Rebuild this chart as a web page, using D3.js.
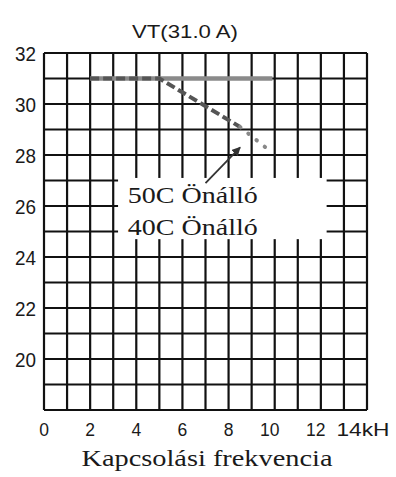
<!DOCTYPE html>
<html><head><meta charset="utf-8">
<script src="https://cdn.jsdelivr.net/npm/d3@7"></script>
<style>html,body{margin:0;padding:0;background:#fff;}</style>
</head><body>
<svg id="c" width="396" height="477"></svg>
<script>
const title = "VT(31.0 A)";
const xLabel = "Kapcsolási frekvencia";
const xTickValues = [0, 2, 4, 6, 8, 10, 12, 14];
const xTickLabels = ["0", "2", "4", "6", "8", "10", "12", "14kH"];
const yTickValues = [20, 22, 24, 26, 28, 30, 32];
const legendLabels = ["50C Önálló", "40C Önálló"];
// series (kHz, A)
const solidX = [2, 9.9];
const solidY = [31, 31];
const dashedX = [2, 5, 8.5];
const dashedY = [31, 31, 29.1];
const dottedX = [8.5, 9.6];
const dottedY = [29.1, 28.3];

const svg = d3.select("#c");
const x = d3.scaleLinear().domain([0, 14]).range([44, 367]);
const y = d3.scaleLinear().domain([18, 32]).range([410, 53]);

const grid = svg.append("g").attr("stroke", "#111").attr("stroke-width", 2.2);
grid.selectAll("line.v").data(d3.range(0, 15)).join("line")
  .attr("x1", d => x(d)).attr("x2", d => x(d)).attr("y1", y(32)).attr("y2", y(18));
grid.selectAll("line.h").data(d3.range(18, 33)).join("line")
  .attr("y1", d => y(d)).attr("y2", d => y(d)).attr("x1", x(0)).attr("x2", x(14));

// legend white box
svg.append("rect").attr("x", x(3.21)).attr("y", y(27.1))
  .attr("width", x(12.25) - x(3.21)).attr("height", y(24.7) - y(27.1)).attr("fill", "#fff");

const line = d3.line();
const pts = (xs, ys) => xs.map((v, i) => [x(v), y(ys[i])]);
svg.append("path").attr("d", line(pts(solidX, solidY))).attr("fill", "none")
  .attr("stroke", "#8a8a8a").attr("stroke-width", 4.5);
svg.append("path").attr("d", line(pts(dashedX, dashedY))).attr("fill", "none")
  .attr("stroke", "#555").attr("stroke-width", 4).attr("stroke-dasharray", "9,4");
svg.append("path").attr("d", line(pts(dottedX, dottedY))).attr("fill", "none")
  .attr("stroke", "#888").attr("stroke-width", 4).attr("stroke-linecap", "round").attr("stroke-dasharray", "0.5,10");

// arrow
svg.append("defs").append("marker").attr("id", "ah").attr("viewBox", "0 0 10 10")
  .attr("refX", 9).attr("refY", 5).attr("markerWidth", 5).attr("markerHeight", 5).attr("orient", "auto")
  .append("path").attr("d", "M0,0 L10,5 L0,10 z").attr("fill", "#333");
svg.append("line").attr("x1", x(7.0)).attr("y1", y(26.9)).attr("x2", x(8.5)).attr("y2", y(28.3))
  .attr("stroke", "#333").attr("stroke-width", 1.8).attr("marker-end", "url(#ah)");

// legend text
const lg = svg.append("g").attr("font-family", "'Liberation Serif','Times New Roman',serif").attr("font-size", 24).attr("fill", "#1a1a1a");
lg.selectAll("text").data(legendLabels).join("text")
  .attr("x", x(3.63)).attr("y", (d, i) => 203 + i * 32)
  .attr("textLength", 130).attr("lengthAdjust", "spacingAndGlyphs")
  .text(d => d);

// title
svg.append("text").attr("x", 185).attr("y", 38).attr("text-anchor", "middle")
  .attr("font-family", "'Liberation Sans',Arial,sans-serif").attr("font-size", 19).attr("fill", "#1a1a1a")
  .attr("textLength", 106).attr("lengthAdjust", "spacingAndGlyphs").text(title);

// y ticks
svg.append("g").selectAll("text").data(yTickValues).join("text")
  .attr("x", 36).attr("y", d => y(d) + 8).attr("text-anchor", "end")
  .attr("font-family", "'Liberation Sans',Arial,sans-serif").attr("font-size", 20).attr("fill", "#1a1a1a")
  .attr("textLength", 21).attr("lengthAdjust", "spacingAndGlyphs")
  .text(d => d);

// x ticks
svg.append("g").selectAll("text").data(xTickValues).join("text")
  .attr("x", (d, i) => i === xTickValues.length - 1 ? x(d) - 4 : x(d) - (d >= 10 ? 5 : 0))
  .attr("y", 436).attr("text-anchor", "middle")
  .attr("font-family", "'Liberation Sans',Arial,sans-serif").attr("font-size", 17.5).attr("fill", "#1a1a1a")
  .each(function(d, i) { if (i === xTickValues.length - 1) d3.select(this).attr("textLength", 53).attr("lengthAdjust", "spacingAndGlyphs"); })
  .text((d, i) => xTickLabels[i]);

// x label
svg.append("text").attr("x", 207).attr("y", 466).attr("text-anchor", "middle")
  .attr("font-family", "'Liberation Serif','Times New Roman',serif").attr("font-size", 24).attr("fill", "#1a1a1a")
  .attr("textLength", 251).attr("lengthAdjust", "spacingAndGlyphs").text(xLabel);
</script>
</body></html>
